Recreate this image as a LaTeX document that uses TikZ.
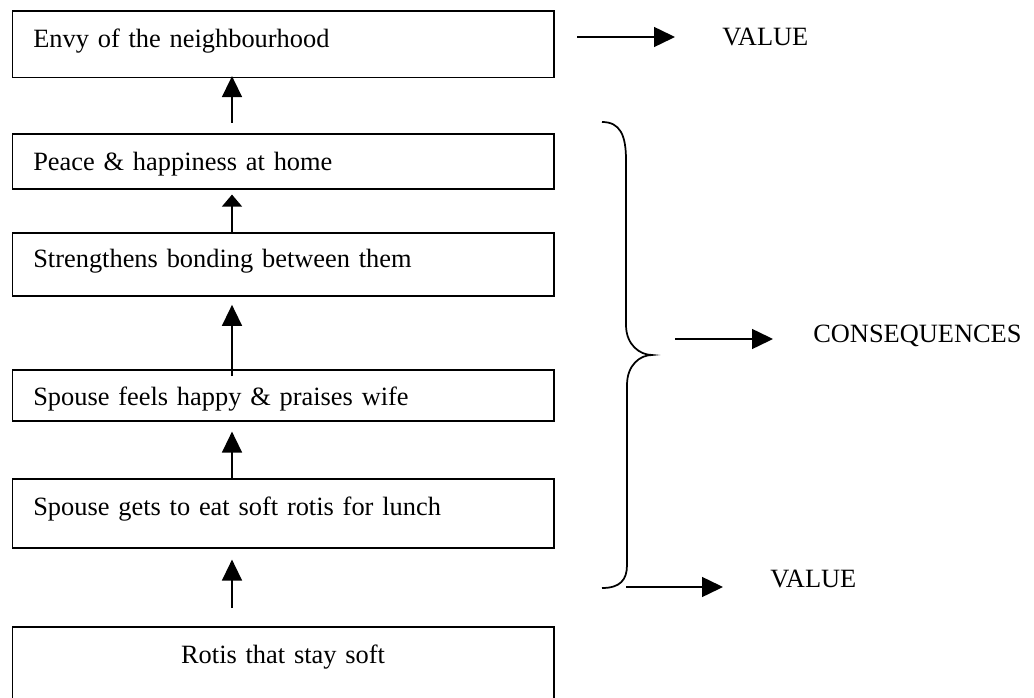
\documentclass[tikz,border=0pt]{standalone}
\usepackage{fontspec}
\setmainfont{Liberation Serif}
\usetikzlibrary{arrows.meta}
\begin{document}
\begin{tikzpicture}[x=0.75pt,y=-0.75pt,
  every node/.style={font=\fontsize{19.8pt}{24pt}\selectfont},
  box/.style={draw,line width=1.2pt,rectangle,anchor=north west,inner xsep=15.75pt,inner ysep=0pt,
    text width=374.6pt,align=left},
  lbl/.style={anchor=base west,inner sep=0pt},
  uparrow/.style={line width=1.1pt,-{Triangle[length=15.75pt,width=15pt]}},
  shortup/.style={line width=1.1pt,-{Triangle[length=9pt,width=15pt]}},
  rarrow/.style={line width=1.1pt,-{Triangle[length=15.75pt,width=15pt]}},
  brace/.style={line width=1.3pt}]
\clip (0,0) rectangle (1034,698);
\node[box,text height=27.4pt,text depth=22.5pt] (b1) at (11.5,10) {Envy of the neighbourhood};
\node[box,text height=27.75pt,text depth=13.5pt] (b2) at (11.5,133) {Peace \& happiness at home};
\node[box,text height=26.25pt,text depth=21.2pt] (b3) at (11.5,232) {Strengthens bonding between them};
\node[box,text height=27pt,text depth=11.25pt] (b4) at (11.5,369) {Spouse feels happy \& praises wife};
\node[box,text height=27.75pt,text depth=24pt] (b5) at (11.5,478) {Spouse gets to eat soft rotis for lunch};
\node[box,align=center,text height=27.75pt,text depth=27.75pt] (b6) at (11.5,626) {Rotis that stay soft};
\coordinate (ax) at (232,0);
\draw[uparrow,shorten <=7.5pt,shorten >=-1.5pt] (b2.north -| ax) -- (b1.south -| ax);
\draw[shortup,shorten >=3.75pt] (b3.north -| ax) -- (b2.south -| ax);
\draw[uparrow,shorten <=-5.25pt,shorten >=6pt] (b4.north -| ax) -- (b3.south -| ax);
\draw[uparrow,shorten >=7.5pt] (b5.north -| ax) -- (b4.south -| ax);
\draw[uparrow,shorten <=13.5pt,shorten >=8.25pt] (b6.north -| ax) -- (b5.south -| ax);
% brace
\draw[brace] (602,122) .. controls (620,122) and (626,135) .. (626,160) -- (626,325)
  .. controls (626,345) and (640,355) .. (652,355)
  .. controls (640,355) and (627,365) .. (627,385) -- (627,565)
  .. controls (627,580) and (620,588) .. (602,588);
% right labels
\node[lbl] (val1) at (722,46) {VALUE};
\node[lbl] (cons) at (813,342) {CONSEQUENCES};
\node[lbl] (val2) at (770,587) {VALUE};
\coordinate (v1a) at (577,37);
\coordinate (v1b) at (675,37);
\coordinate (ca) at (675,339);
\coordinate (cb) at (773,339);
\coordinate (v2a) at (626,587);
\coordinate (v2b) at (723,587);
\draw[rarrow] (v1a) -- (v1b);
\draw[rarrow] (ca) -- (cb);
\draw[rarrow] (v2a) -- (v2b);
\end{tikzpicture}
\end{document}
